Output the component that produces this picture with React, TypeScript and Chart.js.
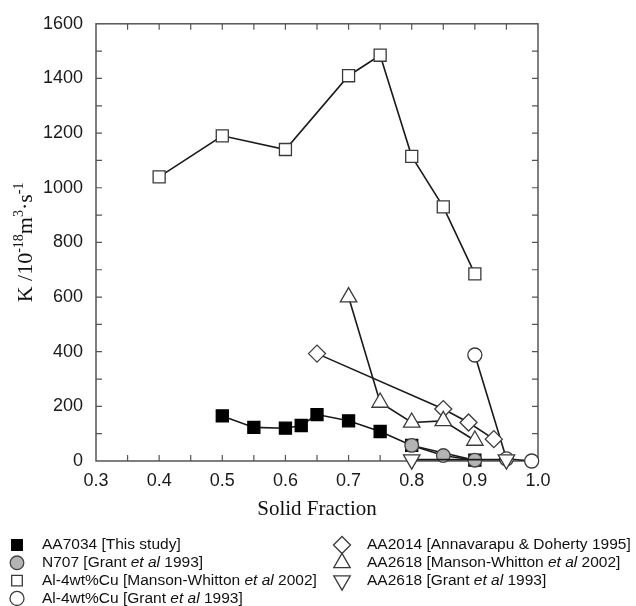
import React, { useEffect, useRef } from 'react';
import { Chart, registerables } from 'chart.js';
import { drawPoint } from 'chart.js/helpers';

Chart.register(...registerables);

// ---- data ----
const aa7034X = [0.5, 0.55, 0.6, 0.625, 0.65, 0.7, 0.75, 0.8, 0.9];
const aa7034Y = [165, 123, 120, 130, 170, 147, 108, 57, 3];

const n707X = [0.8, 0.85, 0.9];
const n707Y = [57, 20, 3];

const alCuMWX = [0.4, 0.5, 0.6, 0.7, 0.75, 0.8, 0.85, 0.9];
const alCuMWY = [1040, 1190, 1140, 1410, 1485, 1115, 930, 685];

const alCuGrantX = [0.9, 0.95, 0.99];
const alCuGrantY = [388, 8, 0];

const aa2014X = [0.65, 0.85, 0.89, 0.93];
const aa2014Y = [393, 190, 141, 80];

const aa2618MWX = [0.7, 0.75, 0.8, 0.85, 0.9];
const aa2618MWY = [600, 214, 141, 147, 75];

const aa2618GrantX = [0.8, 0.95];
const aa2618GrantY = [5, 5];

const seriesLabels = [
  'AA7034 [This study]',
  'N707 [Grant _et al_ 1993]',
  'Al-4wt%Cu [Manson-Whitton _et al_ 2002]',
  'Al-4wt%Cu [Grant _et al_ 1993]',
  'AA2014 [Annavarapu & Doherty 1995]',
  'AA2618 [Manson-Whitton _et al_ 2002]',
  'AA2618 [Grant _et al_ 1993]',
];

const xTitle = 'Solid Fraction';
const yTitleParts = [
  { t: 'K /10', sup: false },
  { t: '-18', sup: true },
  { t: 'm', sup: false },
  { t: '3', sup: true },
  { t: '\u00b7', sup: false },
  { t: 's', sup: false },
  { t: '-1', sup: true },
];

const xMin = 0.3;
const xMax = 1.0;
const yMin = 0;
const yMax = 1600;

const SANS = "'Liberation Sans', Arial, sans-serif";
const SERIF = "'Liberation Serif', 'Times New Roman', serif";
const FRAME = '#555';
const LINE = '#1a1a1a';
const MARK = '#3a3a3a';

const toPts = (xs: number[], ys: number[]) => xs.map((x, i) => ({ x, y: ys[i] }));

const styles = [
  { pointStyle: 'rect', radius: 8.5, rotation: 0, bg: '#000', border: '#000' },
  { pointStyle: 'circle', radius: 6.8, rotation: 0, bg: '#b4b4b4', border: '#444' },
  { pointStyle: 'rect', radius: 8.5, rotation: 0, bg: '#fff', border: MARK },
  { pointStyle: 'circle', radius: 7, rotation: 0, bg: '#fff', border: MARK },
  { pointStyle: 'rectRot', radius: 8.5, rotation: 0, bg: '#fff', border: MARK },
  { pointStyle: 'triangle', radius: 9.5, rotation: 0, bg: '#fff', border: MARK },
  { pointStyle: 'triangle', radius: 9.5, rotation: 180, bg: '#fff', border: MARK },
];

const seriesData = [
  toPts(aa7034X, aa7034Y),
  toPts(n707X, n707Y),
  toPts(alCuMWX, alCuMWY),
  toPts(alCuGrantX, alCuGrantY),
  toPts(aa2014X, aa2014Y),
  toPts(aa2618MWX, aa2618MWY),
  toPts(aa2618GrantX, aa2618GrantY),
];

const framePlugin = {
  id: 'framePlugin',
  beforeDatasetsDraw(chart: any) {
    const { ctx, chartArea: a, scales } = chart;
    ctx.save();
    ctx.strokeStyle = FRAME;
    ctx.lineWidth = 1.5;
    ctx.strokeRect(a.left, a.top, a.right - a.left, a.bottom - a.top);
    ctx.lineWidth = 1.2;
    const tl = 6;
    ctx.beginPath();
    scales.x.ticks.forEach((t: any) => {
      const px = scales.x.getPixelForValue(t.value);
      if (px <= a.left + 1 || px >= a.right - 1) return;
      ctx.moveTo(px, a.bottom);
      ctx.lineTo(px, a.bottom - tl);
      ctx.moveTo(px, a.top);
      ctx.lineTo(px, a.top + tl);
    });
    scales.y.ticks.forEach((t: any) => {
      const py = scales.y.getPixelForValue(t.value);
      if (py <= a.top + 1 || py >= a.bottom - 1) return;
      ctx.moveTo(a.left, py);
      ctx.lineTo(a.left + tl, py);
      ctx.moveTo(a.right, py);
      ctx.lineTo(a.right - tl, py);
    });
    ctx.stroke();
    ctx.restore();
  },
  afterDraw(chart: any) {
    const { ctx, chartArea: a } = chart;
    ctx.save();
    ctx.fillStyle = '#111';
    // x title
    ctx.font = `21px ${SERIF}`;
    ctx.textAlign = 'center';
    ctx.textBaseline = 'alphabetic';
    ctx.fillText(xTitle, (a.left + a.right) / 2, a.bottom + 54);

    // y title with superscripts
    const mainFont = `22px ${SERIF}`;
    const supFont = `14px ${SERIF}`;
    let total = 0;
    const widths = yTitleParts.map((p) => {
      ctx.font = p.sup ? supFont : mainFont;
      const w = ctx.measureText(p.t).width;
      total += w;
      return w;
    });
    ctx.save();
    ctx.translate(a.left - 64, (a.top + a.bottom) / 2);
    ctx.rotate(-Math.PI / 2);
    ctx.textAlign = 'left';
    let cx = -total / 2;
    yTitleParts.forEach((p, i) => {
      ctx.font = p.sup ? supFont : mainFont;
      ctx.fillText(p.t, cx, p.sup ? -9 : 0);
      cx += widths[i];
    });
    ctx.restore();

    // legend
    const rowStep = 17.8;
    const row0 = a.bottom + 84;
    seriesLabels.forEach((label, i) => {
      const col = i < 4 ? 0 : 1;
      const row = i < 4 ? i : i - 4;
      const mx = col === 0 ? 17 : 342;
      const tx = col === 0 ? 42 : 367;
      const y = row0 + row * rowStep;
      const st = styles[i];
      ctx.fillStyle = st.bg;
      ctx.strokeStyle = st.border;
      ctx.lineWidth = 1.3;
      drawPoint(ctx, {
        pointStyle: st.pointStyle,
        radius: st.pointStyle === 'rect' ? 7.5 : st.radius,
        rotation: st.rotation,
        borderWidth: 1.3,
      } as any, mx, y);
      ctx.fillStyle = '#111';
      ctx.textBaseline = 'middle';
      ctx.textAlign = 'left';
      let x = tx;
      label.split('_').forEach((seg, k) => {
        ctx.font = `${k % 2 === 1 ? 'italic ' : ''}15.5px ${SANS}`;
        ctx.fillText(seg, x, y);
        x += ctx.measureText(seg).width;
      });
    });
    ctx.restore();
  },
};

export default function App() {
  const ref = useRef<HTMLCanvasElement | null>(null);
  useEffect(() => {
    if (!ref.current) return;
    const datasets = seriesData.map((d, i) => ({
      label: seriesLabels[i].replace(/_/g, ''),
      data: d,
      showLine: true,
      borderColor: LINE,
      borderWidth: 1.6,
      pointStyle: styles[i].pointStyle,
      pointRadius: styles[i].radius,
      pointRotation: styles[i].rotation,
      pointBackgroundColor: styles[i].bg,
      pointBorderColor: styles[i].border,
      pointBorderWidth: 1.3,
      backgroundColor: styles[i].bg,
      tension: 0,
      clip: false as any,
      order: 10 - i,
    }));
    const chart = new Chart(ref.current, {
      type: 'scatter',
      data: { datasets },
      options: {
        animation: false,
        responsive: false,
        events: [],
        layout: { padding: { left: 0, top: 19, right: 98, bottom: 0 } },
        plugins: { legend: { display: false }, tooltip: { enabled: false } },
        scales: {
          x: {
            type: 'linear',
            min: xMin,
            max: xMax,
            afterFit(scale: any) {
              scale.height = 145;
            },
            grid: { display: false, drawTicks: false },
            border: { display: false },
            ticks: {
              stepSize: 0.05,
              autoSkip: false,
              maxRotation: 0,
              padding: 9,
              color: '#1a1a1a',
              font: { family: SANS, size: 18 },
              callback: (v: any) => {
                const n = Number(v);
                return Math.abs(Math.round(n * 10) - n * 10) < 1e-6 ? n.toFixed(1) : '';
              },
            },
          },
          y: {
            type: 'linear',
            min: yMin,
            max: yMax,
            afterFit(scale: any) {
              scale.width = 96;
            },
            grid: { display: false, drawTicks: false },
            border: { display: false },
            ticks: {
              stepSize: 100,
              autoSkip: false,
              padding: 13,
              color: '#1a1a1a',
              font: { family: SANS, size: 18 },
              callback: (v: any) => (Number(v) % 200 === 0 ? String(v) : ''),
            },
          },
        },
      } as any,
      plugins: [framePlugin],
    });
    return () => chart.destroy();
  }, []);
  return (
    <div style={{ position: 'absolute', left: 0, top: 0, width: 636, height: 606, background: '#fff' }}>
      <canvas ref={ref} width={636} height={606} style={{ display: 'block' }} />
    </div>
  );
}
